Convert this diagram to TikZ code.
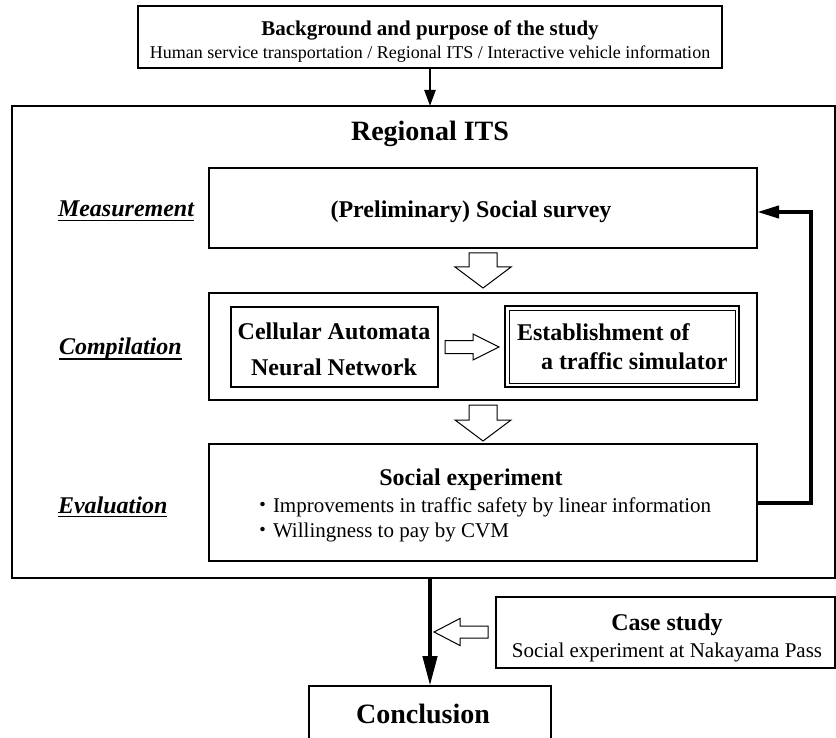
\documentclass[tikz,border=0pt]{standalone}
\usepackage{fontspec}
\setmainfont{Liberation Serif}
\newfontfamily\cjkfont{Noto Sans CJK JP}
\usetikzlibrary{arrows.meta}
\newcommand{\fsz}[1]{\fontsize{#1}{#1}\selectfont}
\begin{document}
\begin{tikzpicture}[x=1pt,y=-1pt,
  box/.style={draw, line width=1.2pt, inner sep=0pt, outer sep=0pt, rectangle},
  txt/.style={inner sep=0pt, outer sep=0pt, anchor=base},
  btxt/.style={txt, font=\fsz{24}\bfseries},
  lbl/.style={inner sep=0pt, outer sep=0pt, anchor=base west, font=\fsz{24}\bfseries\itshape},
  uline/.style={line width=1.2pt},
  hollow/.style={draw, line width=1pt, fill=white, line join=miter},
  thinarrow/.style={line width=2.5pt, -{Triangle[length=16pt,width=11pt]}},
  fatarrow/.style={line width=4.5pt, -{Triangle[length=30pt,width=14pt]}},
  fbarrow/.style={line width=4pt, line join=miter, -{Triangle[length=22pt,width=12pt]}}]
\useasboundingbox (0,0) rectangle (836,738);

% top box
\node[box, minimum width=584pt, minimum height=62pt] (top) at (430,37) {};
\node[txt, font=\fsz{21}\bfseries] (toptitle) at (430,36) {Background and purpose of the study};
\node[txt, font=\fsz{18}] (topsub) at (430,59) {Human service transportation / Regional ITS / Interactive vehicle information};

% outer box
\node[box, minimum width=823pt, minimum height=472pt] (outer) at (423.5,342) {};
\draw[thinarrow] (top.south) -- (top.south |- outer.north);
\node[txt, font=\fsz{28}\bfseries] (rits) at (430,141) {Regional ITS};

% measurement
\node[box, minimum width=548pt, minimum height=80pt] (meas) at (483,208) {};
\node[btxt] (meastxt) at (471,218) {(Preliminary) Social survey};
\node[lbl] (lm) at (58,217) {Measurement};
\draw[uline] ([yshift=-3.5pt]lm.base west) -- ([yshift=-3.5pt]lm.base east);

\draw[hollow] (469,253) -- (497,253) -- (497,267) -- (511,267) -- (483,288) -- (455,267) -- (469,267) -- cycle;

% compilation
\node[box, minimum width=548pt, minimum height=107pt] (comp) at (483,346.5) {};
\node[lbl] (lc) at (59,355) {Compilation};
\draw[uline] ([yshift=-4pt]lc.base west) -- ([yshift=-4pt]lc.base east);
\node[box, minimum width=207pt, minimum height=80pt] (ca) at (334.5,347) {};
\node[btxt] (ca1) at (334,340) {Cellular Automata};
\node[btxt] (ca2) at (334,375) {Neural Network};
\node[box, line width=1.8pt, minimum width=234pt, minimum height=81pt] (est) at (622,346.5) {};
\draw[line width=0.9pt] ([shift={(4pt,4pt)}]est.south west) rectangle ([shift={(-4pt,-4pt)}]est.north east);
\node[btxt, anchor=base west] (est1) at (517,341) {Establishment of};
\node[btxt, anchor=base west] (est2) at (541,370) {a traffic simulator};
\draw[hollow] (445,340.5) -- (473,340.5) -- (473,334) -- (499,347) -- (473,360) -- (473,353.5) -- (445,353.5) -- cycle;

\draw[hollow] (469,405) -- (497,405) -- (497,420) -- (511,420) -- (483,441) -- (455,420) -- (469,420) -- cycle;

% evaluation
\node[box, minimum width=548pt, minimum height=117pt] (eval) at (483,502.5) {};
\node[btxt] (se) at (471,485) {Social experiment};
\node[txt, anchor=base west, font=\fsz{21}] (b1) at (252,512) {{\cjkfont ・}Improvements in traffic safety by linear information};
\node[txt, anchor=base west, font=\fsz{21}] (b2) at (252,537) {{\cjkfont ・}Willingness to pay by CVM};
\node[lbl] (le) at (58,513) {Evaluation};
\draw[uline] ([yshift=-3.5pt]le.base west) -- ([yshift=-3.5pt]le.base east);

\draw[fbarrow] (eval.east) -- ++(54,0) |- ([yshift=-4pt]meas.east);

% conclusion
\node[box, minimum width=242pt, minimum height=74pt] (conc) at (430,723) {};
\node[txt, font=\fsz{28}\bfseries] (conctxt) at (423,723) {Conclusion};
\draw[fatarrow] (conc.north |- outer.south) -- (conc.north);

% case study
\node[box, minimum width=339pt, minimum height=71pt] (case) at (665.5,632.5) {};
\node[btxt] (cs1) at (667,630) {Case study};
\node[txt, font=\fsz{21}] (cs2) at (667,657) {Social experiment at Nakayama Pass};
\draw[hollow] (488,626) -- (460,626) -- (460,618.5) -- (434,632) -- (460,645.5) -- (460,638) -- (488,638) -- cycle;
\end{tikzpicture}
\end{document}
